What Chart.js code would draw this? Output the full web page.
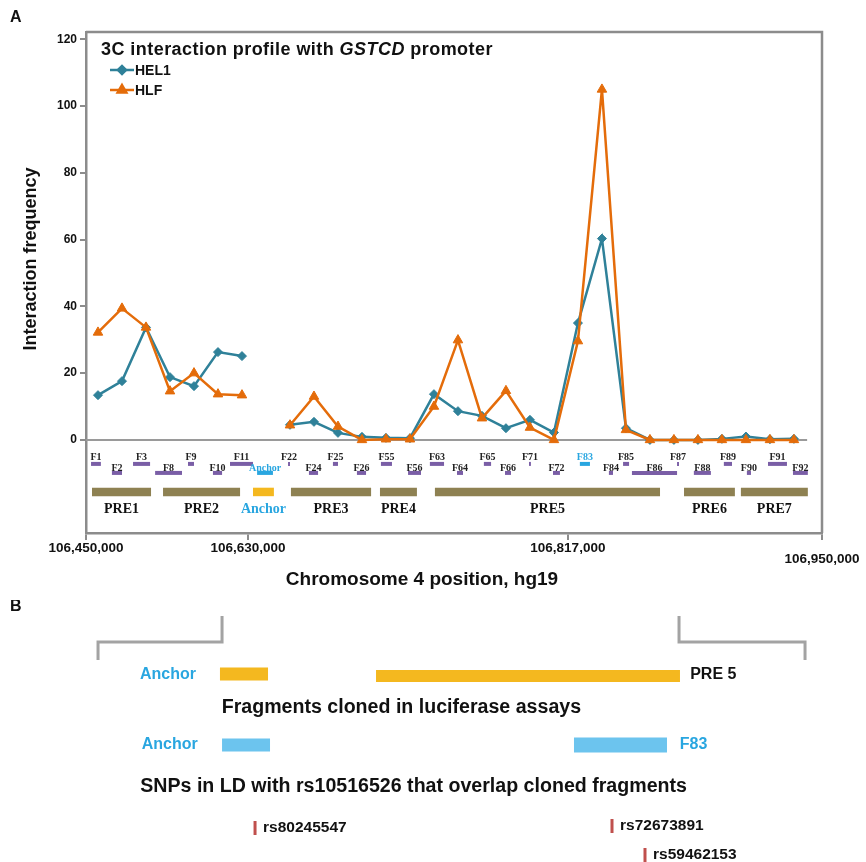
<!DOCTYPE html>
<html>
<head>
<meta charset="utf-8">
<script src="https://cdn.jsdelivr.net/npm/chart.js@4.4.1/dist/chart.umd.min.js"></script>
<style>
  body { margin: 0; background: #fff; }
  #wrapA { position: absolute; left: 0; top: 0; width: 866px; height: 600px; }
  #wrapB { position: absolute; left: 0; top: 600px; width: 866px; height: 262px; }
</style>
</head>
<body>
<div id="wrapA"><canvas id="chartA"></canvas></div>
<div id="wrapB"><canvas id="chartB"></canvas></div>
<script>
// ---- Panel A data (one slot per fragment along the track) ----
const fragments = ['F1','F2','F3','F8','F9','F10','F11','Anchor','F22','F24','F25','F26','F55','F56',
  'F63','F64','F65','F66','F71','F72','F83','F84','F85','F86','F87','F88','F89','F90','F91','F92'];
const hel1 = [13.4, 17.6, 33.7, 18.8, 16.1, 26.3, 25.1, null, 4.5, 5.4, 2.1, 0.9, 0.6, 0.5,
  13.7, 8.6, 7.2, 3.5, 6.0, 2.2, 35, 60.3, 3.5, 0, 0, 0, 0.3, 1.0, 0.2, 0.3];
const hlf = [32.2, 39.4, 33.7, 14.6, 20, 13.7, 13.4, null, 4.4, 13, 4, 0, 0.2, 0.2,
  10, 29.9, 6.5, 14.7, 3.7, 0, 29.6, 105, 3, 0, 0, 0, 0, 0, 0, 0];
// fragment extents, in track slots
const fragStart = [-0.29, 0.58, 1.46, 2.38, 3.75, 4.79, 5.5, 6.63, 7.92, 8.79, 9.79, 10.79, 11.79, 12.92,
  13.83, 14.96, 16.08, 16.96, 17.96, 18.96, 20.08, 21.29, 21.88, 22.25, 24.13, 24.83, 26.08, 27.04, 27.92, 28.96];
const fragEnd = [0.12, 1.0, 2.17, 3.5, 4.0, 5.17, 6.46, 7.29, 8.0, 9.17, 10.0, 11.17, 12.25, 13.46,
  14.42, 15.21, 16.38, 17.21, 18.04, 19.25, 20.5, 21.46, 22.13, 24.13, 24.21, 25.54, 26.42, 27.21, 28.71, 29.58];
const preNames = ['PRE1','PRE2','Anchor','PRE3','PRE4','PRE5','PRE6','PRE7'];
const preStart = [-0.25, 2.71, 6.46, 8.04, 11.75, 14.04, 24.42, 26.79];
const preEnd = [2.21, 5.92, 7.33, 11.38, 13.29, 23.42, 26.54, 29.58];
const xTickPos = [-0.5, 6.25, 19.58, 30.17];
const xTickLabels = ['106,450,000', '106,630,000', '106,817,000', '106,950,000'];
const yTicks = [0, 20, 40, 60, 80, 100, 120];

// ---- Panel B data (percent of track width) ----
const bracketLeft = [11.32, 25.64];
const bracketRight = [78.41, 92.96];
const prePairStart = [25.40, 43.42];   // Anchor, PRE 5
const prePairEnd = [30.95, 78.52];
const cloneStart = [25.64, 66.28];     // Anchor, F83
const cloneEnd = [31.18, 77.02];
const snpNames = ['rs80245547', 'rs72673891', 'rs59462153'];
const snpPos = [29.45, 70.67, 74.48];

const TEAL = '#2f8199';
const ORANGE = '#e46c0a';
const PURPLE = '#7a5ea6';
const OLIVE = '#8e8152';
const YELLOW = '#f4b81f';
const BLUE = '#29a6e0';
const LIGHTBLUE = '#6cc4ee';
const GRAY = '#8c8c8c';

const fragRowY = [-7.2, -9.9];     // bar rows under the baseline
const fragLabelY = [-6.1, -9.3];
const preY = -15.6;
const preLabelY = -21.8;

const datasets = [
  {
    label: 'HLF', order: 0,
    data: hlf.map((v, i) => ({ x: i, y: v })),
    borderColor: ORANGE, backgroundColor: ORANGE, borderWidth: 2.5,
    pointStyle: 'triangle', pointRadius: 5.5, pointBorderWidth: 1
  },
  {
    label: 'HEL1', order: 1,
    data: hel1.map((v, i) => ({ x: i, y: v })),
    borderColor: TEAL, backgroundColor: TEAL, borderWidth: 2.5,
    pointStyle: 'rectRot', pointRadius: 4.5, pointBorderWidth: 1
  },
  {
    label: 'baseline', order: 3,
    data: [{ x: -0.5, y: 0 }, { x: 29.55, y: 0 }],
    borderColor: '#9a9a9a', borderWidth: 2, pointRadius: 0
  }
];
fragments.forEach((f, i) => {
  const row = fragRowY[i % 2];
  datasets.push({
    label: f, order: 2,
    data: [{ x: fragStart[i], y: row }, { x: fragEnd[i], y: row }],
    borderColor: (f === 'Anchor' || f === 'F83') ? BLUE : PURPLE,
    borderWidth: 4, pointRadius: 0, borderCapStyle: 'butt'
  });
});
preNames.forEach((p, i) => {
  datasets.push({
    label: p, order: 2,
    data: [{ x: preStart[i], y: preY }, { x: preEnd[i], y: preY }],
    borderColor: p === 'Anchor' ? YELLOW : OLIVE,
    borderWidth: 8.5, pointRadius: 0, borderCapStyle: 'butt'
  });
});

// text and frame for panel A
const panelA = {
  id: 'panelA',
  afterDraw(chart) {
    const { ctx, chartArea: a, scales: { x, y } } = chart;
    ctx.save();
    // frame top and right
    ctx.strokeStyle = GRAY; ctx.lineWidth = 2.5;
    ctx.beginPath();
    ctx.moveTo(a.left, a.top); ctx.lineTo(a.right, a.top); ctx.lineTo(a.right, a.bottom);
    ctx.stroke();

    // fragment labels
    ctx.textAlign = 'center'; ctx.textBaseline = 'alphabetic';
    ctx.font = 'bold 10px "Liberation Serif", "Times New Roman", serif';
    fragments.forEach((f, i) => {
      ctx.fillStyle = (f === 'Anchor' || f === 'F83') ? BLUE : '#222';
      ctx.fillText(f, x.getPixelForValue((fragStart[i] + fragEnd[i]) / 2), y.getPixelForValue(fragLabelY[i % 2]));
    });
    ctx.font = 'bold 14px "Liberation Serif", "Times New Roman", serif';
    preNames.forEach((p, i) => {
      ctx.fillStyle = p === 'Anchor' ? BLUE : '#111';
      ctx.fillText(p, x.getPixelForValue((preStart[i] + preEnd[i]) / 2), y.getPixelForValue(preLabelY));
    });

    // title
    ctx.fillStyle = '#111'; ctx.textAlign = 'left';
    ctx.letterSpacing = '0.45px';
    const t1 = '3C interaction profile with ', t2 = 'GSTCD', t3 = ' promoter';
    let tx = 101;
    ctx.font = 'bold 18px Arial, "Liberation Sans", sans-serif';
    ctx.fillText(t1, tx, 55); tx += ctx.measureText(t1).width;
    ctx.font = 'italic bold 18px Arial, "Liberation Sans", sans-serif';
    ctx.fillText(t2, tx, 55); tx += ctx.measureText(t2).width;
    ctx.font = 'bold 18px Arial, "Liberation Sans", sans-serif';
    ctx.fillText(t3, tx, 55);
    ctx.letterSpacing = '0px';

    // legend
    const legend = [['HEL1', TEAL, 'rectRot', 70], ['HLF', ORANGE, 'triangle', 90]];
    ctx.font = 'bold 14px Arial, "Liberation Sans", sans-serif';
    ctx.textBaseline = 'middle';
    legend.forEach(([name, col, style, ly]) => {
      ctx.strokeStyle = col; ctx.fillStyle = col; ctx.lineWidth = 2.5;
      ctx.beginPath(); ctx.moveTo(110, ly); ctx.lineTo(134, ly); ctx.stroke();
      Chart.helpers.drawPoint(ctx, { pointStyle: style, radius: style === 'triangle' ? 5 : 4, borderWidth: 1 }, 122, ly);
      ctx.fillStyle = '#111';
      ctx.fillText(name, 135, ly + 1);
    });

    // axis titles and panel letter
    ctx.fillStyle = '#111';
    ctx.font = 'bold 19px Arial, "Liberation Sans", sans-serif';
    ctx.textAlign = 'center'; ctx.textBaseline = 'alphabetic';
    ctx.fillText('Chromosome 4 position, hg19', 422, 585);
    ctx.font = 'bold 18px Arial, "Liberation Sans", sans-serif';
    ctx.save();
    ctx.translate(36, 259); ctx.rotate(-Math.PI / 2);
    ctx.fillText('Interaction frequency', 0, 0);
    ctx.restore();
    ctx.font = 'bold 16px Arial, "Liberation Sans", sans-serif';
    ctx.textAlign = 'left';
    ctx.fillText('A', 10, 22);
    ctx.restore();
  }
};

new Chart(document.getElementById('chartA'), {
  type: 'line',
  data: { datasets },
  options: {
    responsive: true, maintainAspectRatio: false, animation: false,
    layout: { padding: { top: 32, right: 44, left: 0, bottom: 0 } },
    plugins: { legend: { display: false }, tooltip: { enabled: false } },
    scales: {
      x: {
        type: 'linear', min: -0.5, max: 30.17,
        afterFit: s => { s.height = 67; },
        afterBuildTicks: s => { s.ticks = xTickPos.map(v => ({ value: v })); },
        grid: { drawOnChartArea: false, color: GRAY, lineWidth: 2, tickLength: 7 },
        border: { color: GRAY, width: 2.5 },
        ticks: {
          autoSkip: false, maxRotation: 0, padding: 3, color: '#111',
          font: { family: 'Arial, "Liberation Sans", sans-serif', size: 13.5, weight: 'bold', lineHeight: 0.8 },
          callback: (v, i) => i === 3 ? ['', xTickLabels[i]] : xTickLabels[i]
        }
      },
      y: {
        min: -27.9, max: 122.2,
        afterFit: s => { s.width = 86; },
        afterBuildTicks: s => { s.ticks = yTicks.map(v => ({ value: v })); },
        grid: { drawOnChartArea: false, color: GRAY, lineWidth: 2, tickLength: 6 },
        border: { color: GRAY, width: 2.5 },
        ticks: {
          padding: 3, color: '#111',
          font: { family: 'Arial, "Liberation Sans", sans-serif', size: 12, weight: 'bold' }
        }
      }
    }
  },
  plugins: [panelA]
});

// ---- Panel B ----
const rowB = { bracket: 42, bracketLow: 60, bracketHigh: 16, pre: 74, clone: 145, snpA: 228, snpB: 255 };
const bDatasets = [
  { data: [{ x: bracketLeft[0], y: rowB.bracketLow }, { x: bracketLeft[0], y: rowB.bracket },
           { x: bracketLeft[1], y: rowB.bracket }, { x: bracketLeft[1], y: rowB.bracketHigh }],
    borderColor: '#a3a3a3', borderWidth: 3 },
  { data: [{ x: bracketRight[0], y: rowB.bracketHigh }, { x: bracketRight[0], y: rowB.bracket },
           { x: bracketRight[1], y: rowB.bracket }, { x: bracketRight[1], y: rowB.bracketLow }],
    borderColor: '#a3a3a3', borderWidth: 3 }
];
prePairStart.forEach((s, i) => bDatasets.push({
  data: [{ x: s, y: rowB.pre + (i ? 2 : 0) }, { x: prePairEnd[i], y: rowB.pre + (i ? 2 : 0) }],
  borderColor: YELLOW, borderWidth: i ? 12 : 13, borderCapStyle: 'butt'
}));
cloneStart.forEach((s, i) => bDatasets.push({
  data: [{ x: s, y: rowB.clone }, { x: cloneEnd[i], y: rowB.clone }],
  borderColor: LIGHTBLUE, borderWidth: i ? 15 : 13, borderCapStyle: 'butt'
}));
snpPos.forEach((p, i) => {
  const cy = i === 2 ? rowB.snpB : rowB.snpA - (i === 1 ? 2 : 0);
  bDatasets.push({
    data: [{ x: p, y: cy - 7 }, { x: p, y: cy + 7 }],
    borderColor: '#c0504d', borderWidth: 3, borderCapStyle: 'butt'
  });
});
bDatasets.forEach(d => { d.pointRadius = 0; d.fill = false; });

const panelB = {
  id: 'panelB',
  afterDraw(chart) {
    const { ctx, scales: { x, y } } = chart;
    ctx.save();
    ctx.textBaseline = 'middle';
    const f = s => 'bold ' + s + 'px Arial, "Liberation Sans", sans-serif';
    ctx.fillStyle = '#111'; ctx.font = f(16); ctx.textAlign = 'left';
    ctx.fillText('B', 10, 7);
    ctx.font = f(16); ctx.fillStyle = BLUE; ctx.textAlign = 'center';
    ctx.fillText('Anchor', x.getPixelForValue(19.4), y.getPixelForValue(rowB.pre + 1));
    ctx.fillText('Anchor', x.getPixelForValue(19.6), y.getPixelForValue(rowB.clone));
    ctx.textAlign = 'left';
    ctx.fillText('F83', x.getPixelForValue(78.5), y.getPixelForValue(rowB.clone));
    ctx.fillStyle = '#111';
    ctx.fillText('PRE 5', x.getPixelForValue(79.7), y.getPixelForValue(rowB.pre + 1));
    ctx.font = f(19.6);
    ctx.fillText('Fragments cloned in luciferase assays', x.getPixelForValue(25.6), y.getPixelForValue(108));
    ctx.fillText('SNPs in LD with rs10516526 that overlap cloned fragments', x.getPixelForValue(16.2), y.getPixelForValue(187));
    ctx.font = f(15.5);
    snpNames.forEach((n, i) => {
      const cy = i === 2 ? rowB.snpB : rowB.snpA - (i === 1 ? 2 : 0);
      ctx.fillText(n, x.getPixelForValue(snpPos[i]) + 8, y.getPixelForValue(cy));
    });
    ctx.restore();
  }
};

new Chart(document.getElementById('chartB'), {
  type: 'line',
  data: { datasets: bDatasets },
  options: {
    responsive: true, maintainAspectRatio: false, animation: false,
    layout: { padding: 0 },
    plugins: { legend: { display: false }, tooltip: { enabled: false } },
    scales: {
      x: { type: 'linear', min: 0, max: 100, display: false },
      y: { min: 0, max: 262, reverse: true, display: false }
    }
  },
  plugins: [panelB]
});
</script>
</body>
</html>
